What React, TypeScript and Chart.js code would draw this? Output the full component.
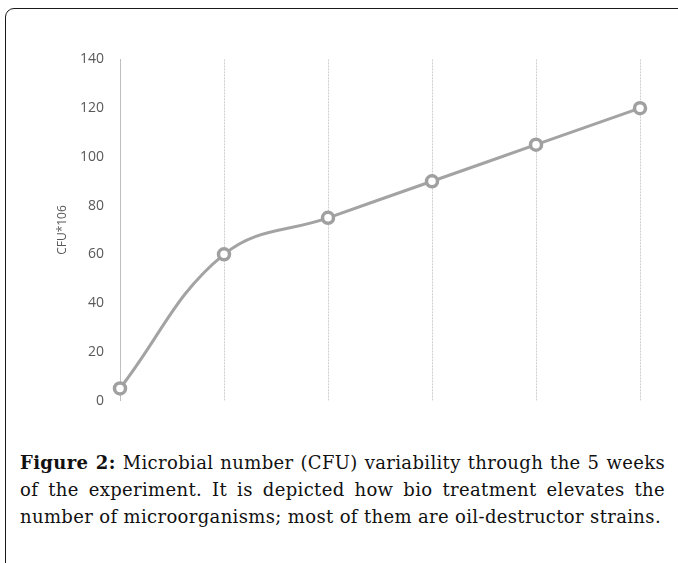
import React, { useEffect, useRef } from "react";
import { Chart, registerables } from "chart.js";

Chart.register(...registerables);

const weeks = ["0", "1", "2", "3", "4", "5"];
const cfuValues = [5, 60, 75, 90, 105, 120];
const yTicks = [0, 20, 40, 60, 80, 100, 120, 140];
const yTitle = "CFU*106";
const captionBold = "Figure 2:";
const captionLines = [
  " Microbial number (CFU) variability through the 5 weeks",
  "of the experiment. It is depicted how bio treatment elevates the",
  "number of microorganisms; most of them are oil-destructor strains.",
];

export default function App() {
  const ref = useRef<HTMLCanvasElement | null>(null);
  useEffect(() => {
    if (!ref.current) return;
    const chart = new Chart(ref.current, {
      type: "line",
      data: {
        labels: weeks,
        datasets: [
          {
            data: cfuValues,
            borderColor: "#a3a3a3",
            borderWidth: 3,
            tension: 0.4,
            pointRadius: 5.5,
            pointBorderWidth: 3.5,
            pointBorderColor: "#a0a0a0",
            pointBackgroundColor: "#ffffff",
            clip: false,
          },
        ],
      },
      options: {
        animation: false,
        responsive: false,
        maintainAspectRatio: false,
        layout: { padding: 0 },
        plugins: { legend: { display: false }, tooltip: { enabled: false } },
        scales: {
          x: {
            offset: false,
            ticks: { display: false },
            grid: {
              display: true,
              color: "#cfcfcf",
              drawTicks: false,
              lineWidth: 1,
            },
            border: { display: false, dash: [2, 1] },
          },
          y: {
            min: 0,
            max: 140,
            afterBuildTicks: (scale: any) => {
              scale.ticks = yTicks.map((v) => ({ value: v }));
            },
            afterFit: (scale: any) => {
              scale.width = 65;
            },
            ticks: {
              color: "#595959",
              font: { family: "'Open Sans', sans-serif", size: 14 },
              padding: 16,
            },
            grid: { display: false, drawTicks: false },
            border: { display: true, color: "#bfbfbf", width: 1 },
            title: {
              display: true,
              text: yTitle,
              color: "#595959",
              font: { family: "'Open Sans', sans-serif", size: 12 },
              padding: 0,
            },
          },
        },
      },
    });
    return () => chart.destroy();
  }, []);

  const lineStyle: React.CSSProperties = {
    textAlign: "justify",
    textAlignLast: "justify",
    whiteSpace: "nowrap",
  };

  return (
    <div
      style={{
        position: "absolute",
        left: 0,
        top: 0,
        width: 678,
        height: 563,
        overflow: "hidden",
        background: "#fff",
      }}
    >
      <div
        style={{
          position: "absolute",
          left: 5,
          top: 8,
          width: 720,
          height: 620,
          border: "1.5px solid #1a1a1a",
          borderRadius: 9,
          boxSizing: "border-box",
        }}
      />
      <div style={{ position: "absolute", left: 55, top: 35, width: 594, height: 390 }}>
        <canvas ref={ref} width={594} height={390} style={{ width: 594, height: 390 }} />
      </div>
      <div
        style={{
          position: "absolute",
          left: 20,
          top: 449,
          width: 645,
          fontFamily: "'DejaVu Serif', serif",
          fontSize: 18,
          letterSpacing: "0.35px",
          lineHeight: "27px",
          color: "#111",
        }}
      >
        <div style={lineStyle}>
          <b>{captionBold}</b>
          {captionLines[0]}
        </div>
        <div style={lineStyle}>{captionLines[1]}</div>
        <div style={{ whiteSpace: "nowrap" }}>{captionLines[2]}</div>
      </div>
    </div>
  );
}
